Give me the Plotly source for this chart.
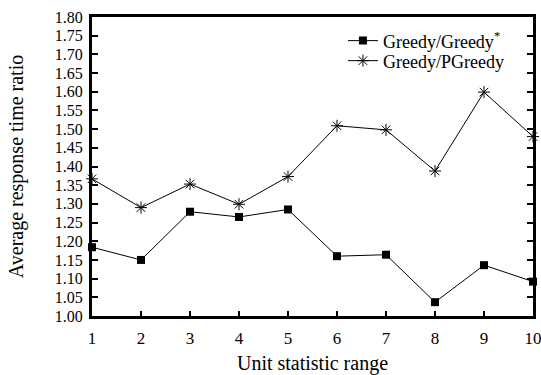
import plotly.graph_objects as go

# Unit statistic range (x) and the two response-time ratio series
ranges = [1, 2, 3, 4, 5, 6, 7, 8, 9, 10]
greedy_star = [1.184, 1.150, 1.279, 1.265, 1.285, 1.160, 1.164, 1.037, 1.136, 1.092]
greedy_pgreedy = [1.367, 1.290, 1.353, 1.299, 1.373, 1.509, 1.498, 1.388, 1.599, 1.480]
y_ticks = [1.00, 1.05, 1.10, 1.15, 1.20, 1.25, 1.30, 1.35, 1.40, 1.45,
           1.50, 1.55, 1.60, 1.65, 1.70, 1.75, 1.80]
x_ticks = ranges

FONT = "Liberation Serif, Times New Roman, serif"

fig = go.Figure()
fig.add_trace(go.Scatter(
    x=ranges, y=greedy_star, mode="lines+markers",
    name="Greedy/Greedy<sup>*</sup>",
    line=dict(color="black", width=1),
    marker=dict(symbol="square", size=8, color="black"),
    cliponaxis=False, legend="legend",
))
fig.add_trace(go.Scatter(
    x=ranges, y=greedy_pgreedy, mode="lines+markers",
    name="Greedy/PGreedy",
    line=dict(color="black", width=1),
    marker=dict(symbol="asterisk-open", size=10, color="black",
                line=dict(color="black", width=1)),
    cliponaxis=False, legend="legend2",
))

# one legend per row keeps the two entries tightly stacked
legend_style = dict(
    xanchor="left", yanchor="middle",
    bgcolor="rgba(0,0,0,0)", borderwidth=0,
    font=dict(family=FONT, size=18, color="black"),
    itemwidth=30,
)

fig.update_layout(
    width=541, height=375,
    margin=dict(l=92, r=8, t=17, b=59),
    paper_bgcolor="white", plot_bgcolor="white",
    font=dict(family=FONT, size=16, color="black"),
    showlegend=True,
    legend=dict(x=0.569, y=0.920, **legend_style),
    legend2=dict(x=0.569, y=0.853, **legend_style),
)
fig.update_xaxes(
    range=[1, 10], tickvals=x_ticks, ticktext=[str(v) for v in x_ticks],
    showgrid=False, zeroline=False, automargin=False,
    showline=True, linecolor="black", linewidth=3, mirror=True,
    ticks="inside", ticklen=5, tickwidth=2, tickcolor="black",
    tickfont=dict(family=FONT, size=17), ticklabelstandoff=5,
    ticklabeloverflow="allow",
    title=dict(text="Unit statistic range", font=dict(family=FONT, size=20), standoff=16),
)
fig.update_yaxes(
    range=[1.0, 1.8], tickvals=y_ticks, ticktext=[f"{v:.2f}" for v in y_ticks],
    showgrid=False, zeroline=False, automargin=False,
    showline=True, linecolor="black", linewidth=3, mirror="ticks",
    ticks="inside", ticklen=6, tickwidth=2, tickcolor="black",
    tickfont=dict(family=FONT, size=16), ticklabelstandoff=3,
    title=dict(text="Average response time ratio", font=dict(family=FONT, size=20), standoff=26),
)

fig.write_html("out.html")
